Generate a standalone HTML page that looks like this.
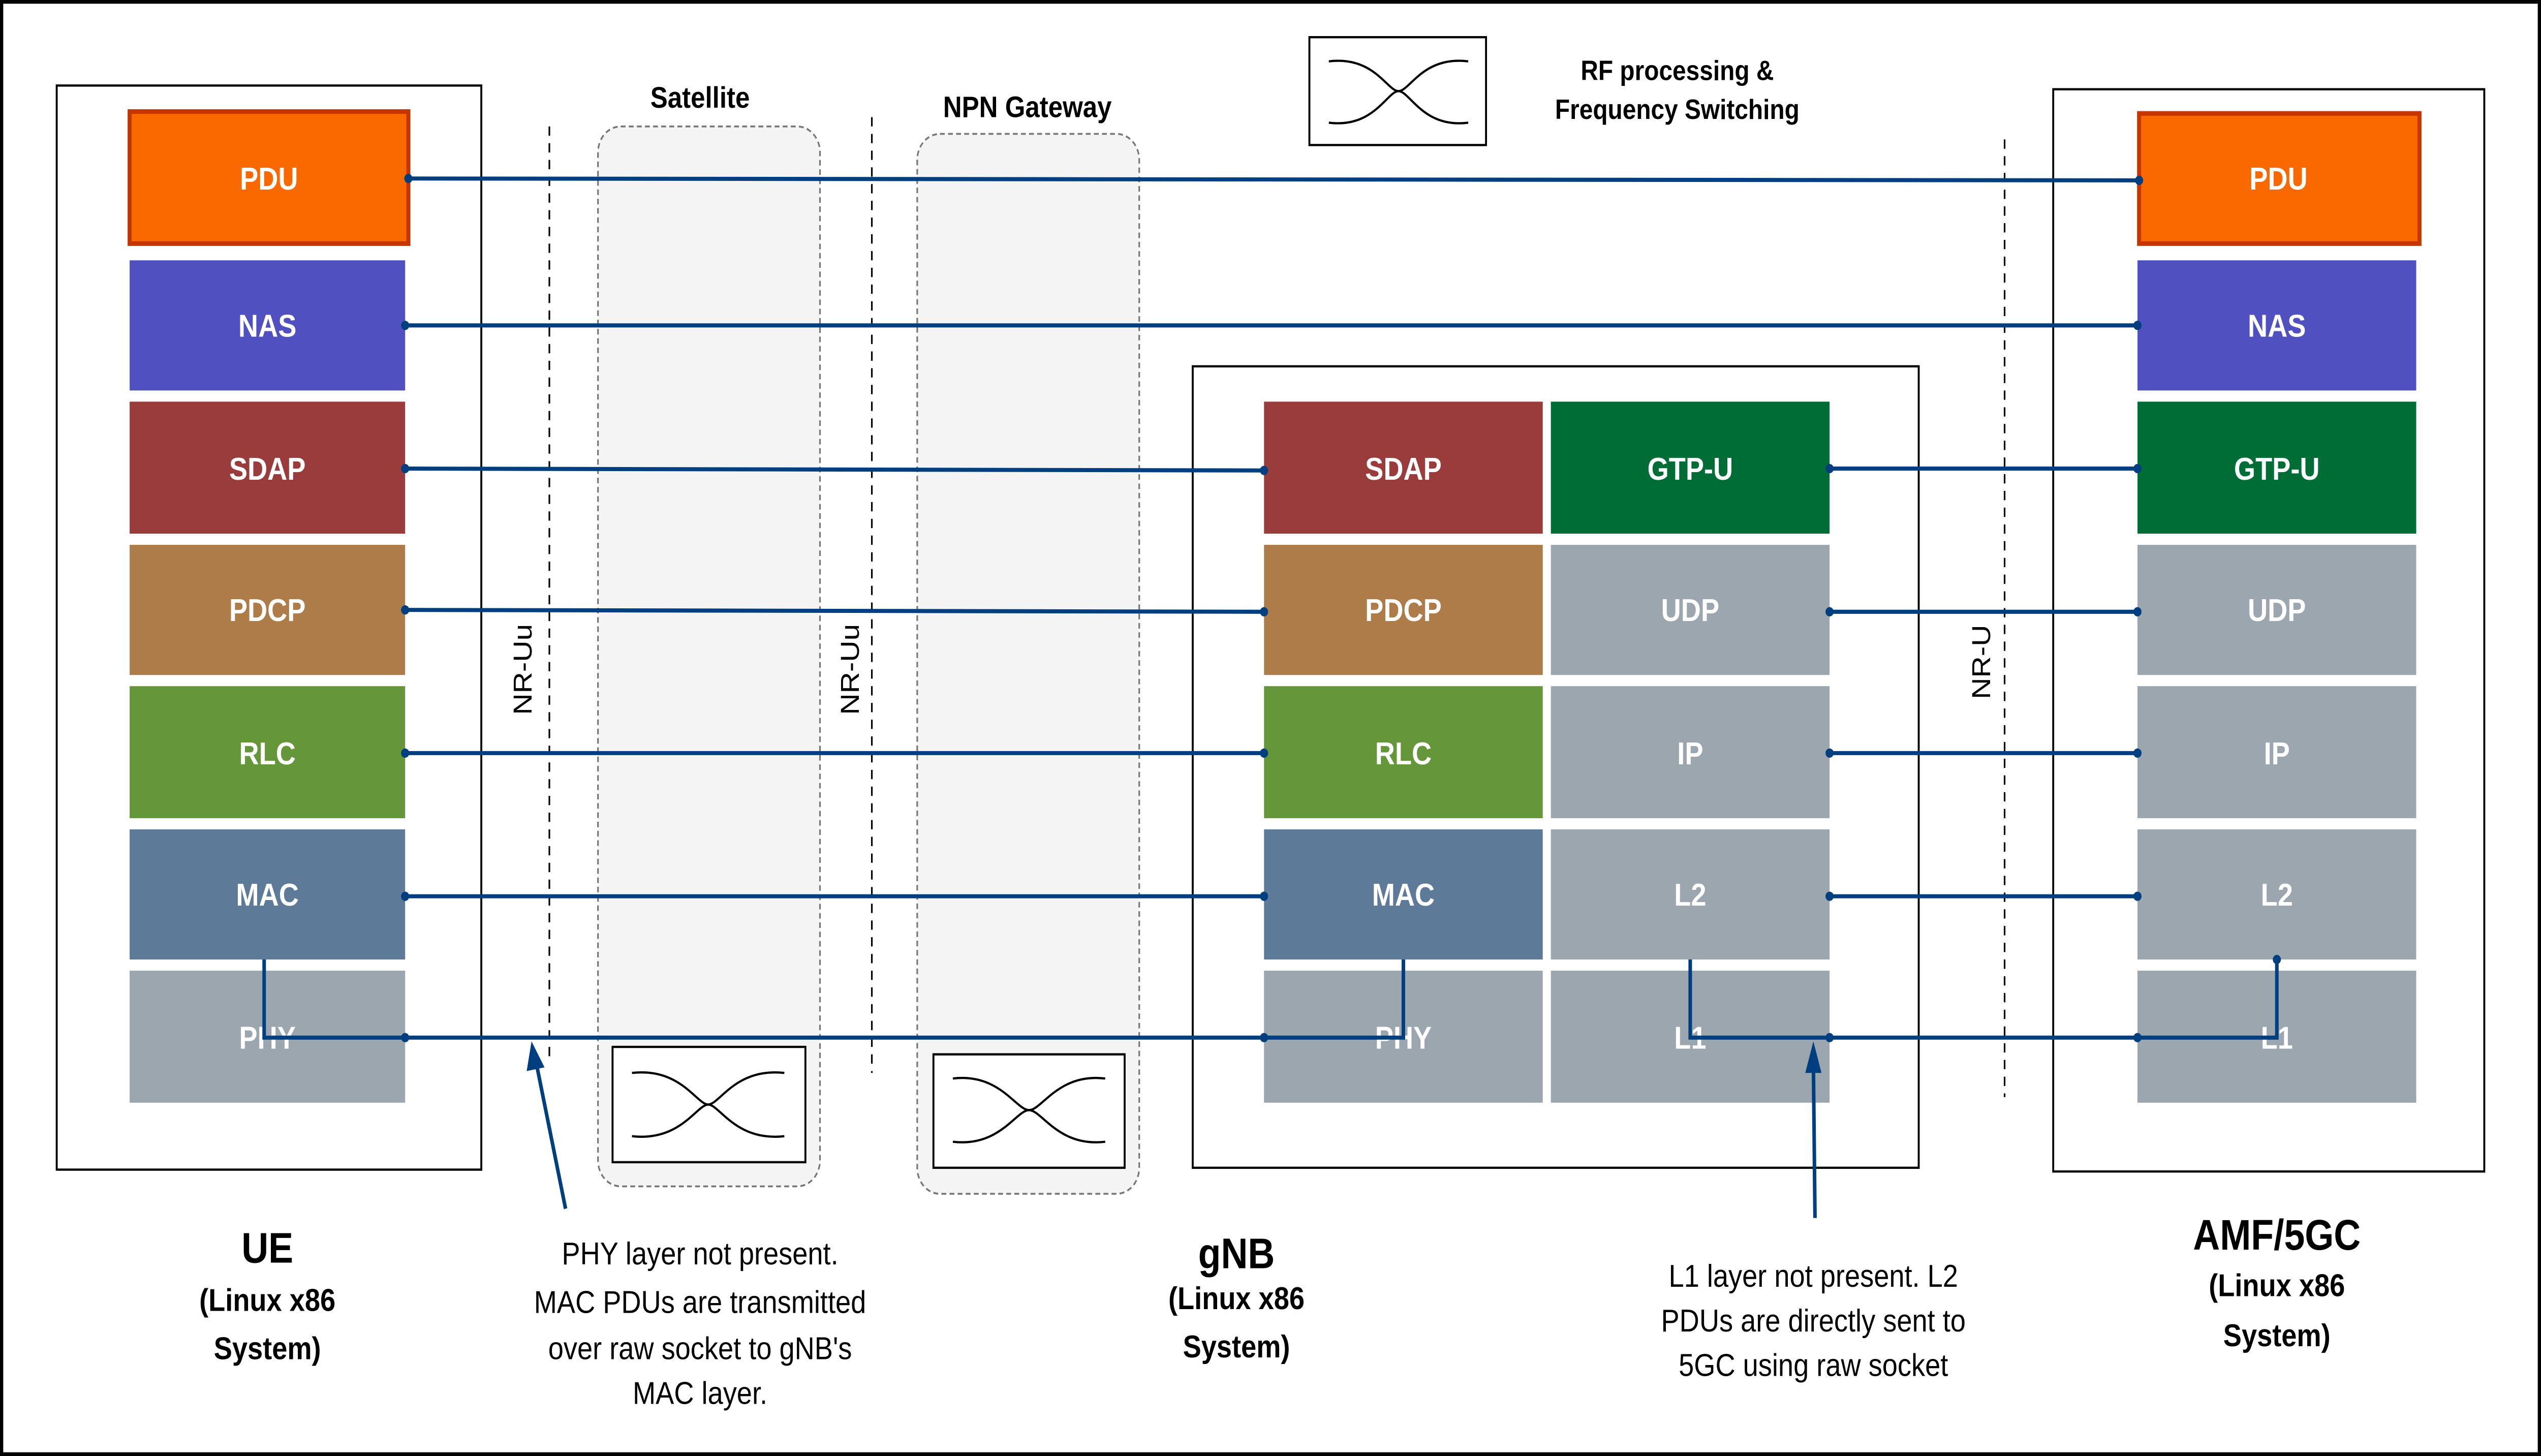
<!DOCTYPE html>
<html><head><meta charset="utf-8"><style>html,body{margin:0;padding:0;background:#fff;width:100%;height:100%;overflow:hidden}svg{display:block;width:100vw;height:100vh}</style></head>
<body>
<svg viewBox="0 0 1568 783" preserveAspectRatio="none" xmlns="http://www.w3.org/2000/svg" font-family="Liberation Sans, Arial, sans-serif">
<rect x="0" y="0" width="1568" height="783" fill="#fff"/>
<rect x="1" y="1" width="1566" height="781" fill="none" stroke="#000" stroke-width="2"/>

<rect x="35" y="46" width="262" height="583" fill="#fff" stroke="#000" stroke-width="1.2"/>
<rect x="736" y="197" width="448" height="431" fill="#fff" stroke="#000" stroke-width="1.2"/>
<rect x="1267" y="48" width="266" height="582" fill="#fff" stroke="#000" stroke-width="1.2"/>

<rect x="369" y="68" width="137" height="570" rx="14" fill="#f4f4f4" stroke="#777" stroke-dasharray="3,2" stroke-width="1"/>
<rect x="566" y="72" width="137" height="570" rx="14" fill="#f4f4f4" stroke="#777" stroke-dasharray="3,2" stroke-width="1"/>
<text x="432" y="58" font-size="16" font-weight="bold" text-anchor="middle">Satellite</text>
<text x="634" y="63" font-size="16" font-weight="bold" text-anchor="middle">NPN Gateway</text>

<g fill="none" stroke="#000" stroke-width="1.2">
<rect x="378" y="563" width="119" height="62" fill="#fff"/>
<path d="M390 577 C420 574,430 594,437 594 C444 594,454 574,484 577"/>
<path d="M390 611 C420 614,430 594,437 594 C444 594,454 614,484 611"/>
<rect x="576" y="567" width="118" height="61" fill="#fff"/>
<path d="M588 580 C617 577,627 597,635 597 C643 597,653 577,682 580"/>
<path d="M588 614 C617 617,627 597,635 597 C643 597,653 617,682 614"/>
<rect x="808" y="20" width="109" height="58" fill="#fff"/>
<path d="M820 33 C848 30,856 49,863 49 C870 49,878 30,906 33"/>
<path d="M820 66 C848 69,856 49,863 49 C870 49,878 69,906 66"/>
</g>
<text x="1035" y="43" font-size="15" font-weight="bold" text-anchor="middle">RF processing &amp;</text>
<text x="1035" y="64" font-size="15" font-weight="bold" text-anchor="middle">Frequency Switching</text>

<g stroke="#000" stroke-width="1" stroke-dasharray="5,4">
<line x1="339" y1="68" x2="339" y2="568"/>
<line x1="538" y1="63" x2="538" y2="577"/>
<line x1="1237" y1="75" x2="1237" y2="590"/>
</g>
<text transform="translate(328,360) rotate(-90)" font-size="16" text-anchor="middle">NR-Uu</text>
<text transform="translate(530,360) rotate(-90)" font-size="16" text-anchor="middle">NR-Uu</text>
<text transform="translate(1228,356) rotate(-90)" font-size="16" text-anchor="middle">NR-U</text>

<g font-size="17" font-weight="bold" fill="#fff" text-anchor="middle">
<rect x="80" y="60" width="172" height="71" fill="#FA6800" stroke="#C73500" stroke-width="2.5"/>
<text x="166" y="102">PDU</text>
<rect x="80" y="140" width="170" height="70" fill="#5050C0"/><text x="165" y="181">NAS</text>
<rect x="80" y="216" width="170" height="71" fill="#9B3C3C"/><text x="165" y="258">SDAP</text>
<rect x="80" y="293" width="170" height="70" fill="#AE7C48"/><text x="165" y="334">PDCP</text>
<rect x="80" y="369" width="170" height="71" fill="#66963A"/><text x="165" y="411">RLC</text>
<rect x="80" y="446" width="170" height="70" fill="#5D7A99"/><text x="165" y="487">MAC</text>
<rect x="80" y="522" width="170" height="71" fill="#9CA6AF"/><text x="165" y="564">PHY</text>

<rect x="780" y="216" width="172" height="71" fill="#9B3C3C"/><text x="866" y="258">SDAP</text>
<rect x="780" y="293" width="172" height="70" fill="#AE7C48"/><text x="866" y="334">PDCP</text>
<rect x="780" y="369" width="172" height="71" fill="#66963A"/><text x="866" y="411">RLC</text>
<rect x="780" y="446" width="172" height="70" fill="#5D7A99"/><text x="866" y="487">MAC</text>
<rect x="780" y="522" width="172" height="71" fill="#9CA6AF"/><text x="866" y="564">PHY</text>

<rect x="957" y="216" width="172" height="71" fill="#006D36"/><text x="1043" y="258">GTP-U</text>
<rect x="957" y="293" width="172" height="70" fill="#9CA6AF"/><text x="1043" y="334">UDP</text>
<rect x="957" y="369" width="172" height="71" fill="#9CA6AF"/><text x="1043" y="411">IP</text>
<rect x="957" y="446" width="172" height="70" fill="#9CA6AF"/><text x="1043" y="487">L2</text>
<rect x="957" y="522" width="172" height="71" fill="#9CA6AF"/><text x="1043" y="564">L1</text>

<rect x="1320" y="61" width="173" height="70" fill="#FA6800" stroke="#C73500" stroke-width="2.5"/>
<text x="1406" y="102">PDU</text>
<rect x="1319" y="140" width="172" height="70" fill="#5050C0"/><text x="1405" y="181">NAS</text>
<rect x="1319" y="216" width="172" height="71" fill="#006D36"/><text x="1405" y="258">GTP-U</text>
<rect x="1319" y="293" width="172" height="70" fill="#9CA6AF"/><text x="1405" y="334">UDP</text>
<rect x="1319" y="369" width="172" height="71" fill="#9CA6AF"/><text x="1405" y="411">IP</text>
<rect x="1319" y="446" width="172" height="70" fill="#9CA6AF"/><text x="1405" y="487">L2</text>
<rect x="1319" y="522" width="172" height="71" fill="#9CA6AF"/><text x="1405" y="564">L1</text>
</g>

<g stroke="#003F7F" stroke-width="2.2" fill="none">
<line x1="252" y1="96" x2="1320" y2="97"/>
<line x1="250" y1="175" x2="1319" y2="175"/>
<line x1="250" y1="252" x2="780" y2="253"/>
<line x1="250" y1="328" x2="780" y2="329"/>
<line x1="250" y1="405" x2="780" y2="405"/>
<line x1="250" y1="482" x2="780" y2="482"/>
<line x1="1129" y1="252" x2="1319" y2="252"/>
<line x1="1129" y1="329" x2="1319" y2="329"/>
<line x1="1129" y1="405" x2="1319" y2="405"/>
<line x1="1129" y1="482" x2="1319" y2="482"/>
<polyline points="163,516 163,558 866,558 866,516"/>
<polyline points="1043,516 1043,558 1405,558 1405,516"/>
<line x1="349" y1="650" x2="331" y2="572"/>
<line x1="1120" y1="655" x2="1119" y2="572"/>
</g>
<g fill="#003F7F">
<polygon points="328,560 325,576 336,574"/>
<polygon points="1119,560 1114,577 1124,577"/>
<circle cx="252" cy="96" r="2.5"/><circle cx="1320" cy="97" r="2.5"/>
<circle cx="250" cy="175" r="2.5"/><circle cx="1319" cy="175" r="2.5"/>
<circle cx="250" cy="252" r="2.5"/><circle cx="780" cy="253" r="2.5"/>
<circle cx="250" cy="328" r="2.5"/><circle cx="780" cy="329" r="2.5"/>
<circle cx="250" cy="405" r="2.5"/><circle cx="780" cy="405" r="2.5"/>
<circle cx="250" cy="482" r="2.5"/><circle cx="780" cy="482" r="2.5"/>
<circle cx="1129" cy="252" r="2.5"/><circle cx="1319" cy="252" r="2.5"/>
<circle cx="1129" cy="329" r="2.5"/><circle cx="1319" cy="329" r="2.5"/>
<circle cx="1129" cy="405" r="2.5"/><circle cx="1319" cy="405" r="2.5"/>
<circle cx="1129" cy="482" r="2.5"/><circle cx="1319" cy="482" r="2.5"/>
<circle cx="250" cy="558" r="2.5"/><circle cx="780" cy="558" r="2.5"/>
<circle cx="1129" cy="558" r="2.5"/><circle cx="1319" cy="558" r="2.5"/>
<circle cx="1405" cy="516" r="2.5"/>
</g>

<g text-anchor="middle" font-weight="bold">
<text x="165" y="679" font-size="23">UE</text>
<text x="165" y="705" font-size="17">(Linux x86</text>
<text x="165" y="731" font-size="17">System)</text>
<text x="763" y="682" font-size="23">gNB</text>
<text x="763" y="704" font-size="17">(Linux x86</text>
<text x="763" y="730" font-size="17">System)</text>
<text x="1405" y="672" font-size="23">AMF/5GC</text>
<text x="1405" y="697" font-size="17">(Linux x86</text>
<text x="1405" y="724" font-size="17">System)</text>
</g>
<g text-anchor="middle" font-size="17">
<text x="432" y="680">PHY layer not present.</text>
<text x="432" y="706">MAC PDUs are transmitted</text>
<text x="432" y="731">over raw socket to gNB's</text>
<text x="432" y="755">MAC layer.</text>
<text x="1119" y="692">L1 layer not present. L2</text>
<text x="1119" y="716">PDUs are directly sent to</text>
<text x="1119" y="740">5GC using raw socket</text>
</g>
</svg>
</body></html>
